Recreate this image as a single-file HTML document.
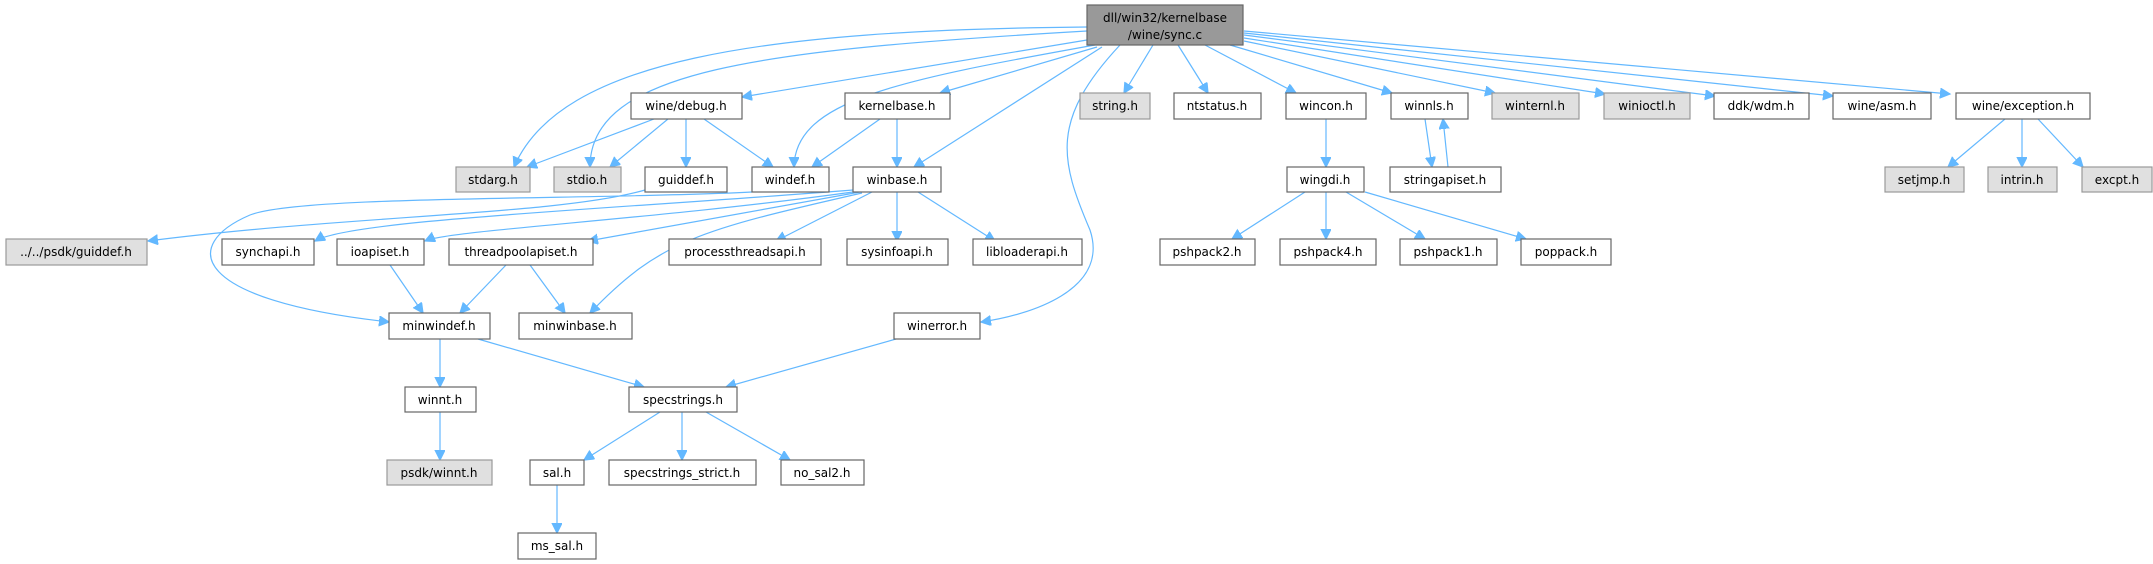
<!DOCTYPE html>
<html><head><meta charset="utf-8"><style>
html,body{margin:0;padding:0;background:#fff;width:2153px;height:564px;overflow:hidden}
svg{display:block}
text{font-family:"DejaVu Sans","Liberation Sans",sans-serif;font-size:12px;fill:#000;text-anchor:middle}
.n rect{fill:#fff;stroke:#666;stroke-width:1.2}
.g rect{fill:#e0e0e0;stroke:#999;stroke-width:1.2}
.m rect{fill:#999;stroke:#666;stroke-width:1.2}
path{fill:none;stroke:#63b8ff;stroke-width:1.2}
</style></head><body>
<svg width="2153" height="564" viewBox="0 0 2153 564" xmlns="http://www.w3.org/2000/svg">
<defs><marker id="a" markerUnits="userSpaceOnUse" markerWidth="12" markerHeight="12" refX="10" refY="5" orient="auto"><path d="M0,0 L10,5 L0,10 z" style="fill:#63b8ff;stroke:#63b8ff"/></marker></defs>
<g marker-end="url(#a)">
<path d="M1087,27 C760,30 560,60 514,167"/>
<path d="M1087,31 C760,50 590,70 590,167"/>
<path d="M1087,40 L742,97"/>
<path d="M1095,45 C900,80 795,100 794,167"/>
<path d="M1097,47 L940,93"/>
<path d="M1102,47 L914,167"/>
<path d="M1120,45 C1050,120 1060,160 1090,230 C1110,290 1030,315 981,322"/>
<path d="M1153,45 L1124,93"/>
<path d="M1178,45 L1208,93"/>
<path d="M1205,45 L1296,93"/>
<path d="M1230,45 L1392,93"/>
<path d="M1244,41 L1495,93"/>
<path d="M1244,38 L1605,94"/>
<path d="M1244,35 L1715,96"/>
<path d="M1244,33 L1833,96"/>
<path d="M1244,31 L1950,94"/>
<path d="M654,119 L527,167"/>
<path d="M668,119 L610,167"/>
<path d="M686,119 L686,167"/>
<path d="M704,119 L773,167"/>
<path d="M880,119 L812,167"/>
<path d="M897,119 L897,167"/>
<path d="M645,190 C560,215 350,215 148,241"/>
<path d="M752,192 C600,200 300,195 250,215 C180,245 190,300 389,322"/>
<path d="M853,190 C600,210 350,220 315,241"/>
<path d="M853,192 C650,220 450,230 425,241"/>
<path d="M860,192 L588,241"/>
<path d="M862,193 C700,230 660,240 590,313"/>
<path d="M872,192 L776,241"/>
<path d="M897,192 L897,241"/>
<path d="M918,192 L995,241"/>
<path d="M390,265 L423,313"/>
<path d="M506,265 L460,313"/>
<path d="M530,265 L565,313"/>
<path d="M440,339 L440,387"/>
<path d="M478,339 L644,387"/>
<path d="M896,339 L726,387"/>
<path d="M440,412 L440,460"/>
<path d="M660,412 L584,460"/>
<path d="M682,412 L682,460"/>
<path d="M706,412 L790,460"/>
<path d="M557,485 L557,533"/>
<path d="M1326,119 L1326,167"/>
<path d="M1425,119 L1432,167"/>
<path d="M1448,167 L1443,119"/>
<path d="M1305,192 L1232,239"/>
<path d="M1326,192 L1326,239"/>
<path d="M1346,192 L1425,239"/>
<path d="M1365,192 L1526,239"/>
<path d="M2005,119 L1948,167"/>
<path d="M2022,119 L2022,167"/>
<path d="M2038,119 L2083,167"/>
</g>
<g class="m"><rect x="1087" y="5" width="156" height="40"/><text x="1165" y="22">dll/win32/kernelbase</text><text x="1165" y="39">/wine/sync.c</text></g>
<g class="n"><rect x="631" y="93" width="111" height="26"/><text x="686" y="110">wine/debug.h</text></g>
<g class="n"><rect x="845" y="93" width="105" height="26"/><text x="897" y="110">kernelbase.h</text></g>
<g class="g"><rect x="1080" y="93" width="70" height="26"/><text x="1115" y="110">string.h</text></g>
<g class="n"><rect x="1174" y="93" width="87" height="26"/><text x="1217" y="110">ntstatus.h</text></g>
<g class="n"><rect x="1286" y="93" width="80" height="26"/><text x="1326" y="110">wincon.h</text></g>
<g class="n"><rect x="1391" y="93" width="77" height="26"/><text x="1429" y="110">winnls.h</text></g>
<g class="g"><rect x="1492" y="93" width="87" height="26"/><text x="1535" y="110">winternl.h</text></g>
<g class="g"><rect x="1604" y="93" width="86" height="26"/><text x="1647" y="110">winioctl.h</text></g>
<g class="n"><rect x="1714" y="93" width="95" height="26"/><text x="1761" y="110">ddk/wdm.h</text></g>
<g class="n"><rect x="1833" y="93" width="98" height="26"/><text x="1882" y="110">wine/asm.h</text></g>
<g class="n"><rect x="1956" y="93" width="134" height="26"/><text x="2023" y="110">wine/exception.h</text></g>
<g class="g"><rect x="456" y="167" width="74" height="25"/><text x="493" y="184">stdarg.h</text></g>
<g class="g"><rect x="554" y="167" width="67" height="25"/><text x="587" y="184">stdio.h</text></g>
<g class="n"><rect x="645" y="167" width="82" height="25"/><text x="686" y="184">guiddef.h</text></g>
<g class="n"><rect x="752" y="167" width="77" height="25"/><text x="790" y="184">windef.h</text></g>
<g class="n"><rect x="853" y="167" width="88" height="25"/><text x="897" y="184">winbase.h</text></g>
<g class="n"><rect x="1287" y="167" width="77" height="25"/><text x="1325" y="184">wingdi.h</text></g>
<g class="n"><rect x="1390" y="167" width="111" height="25"/><text x="1445" y="184">stringapiset.h</text></g>
<g class="g"><rect x="1885" y="167" width="79" height="25"/><text x="1924" y="184">setjmp.h</text></g>
<g class="g"><rect x="1988" y="167" width="69" height="25"/><text x="2022" y="184">intrin.h</text></g>
<g class="g"><rect x="2082" y="167" width="70" height="25"/><text x="2117" y="184">excpt.h</text></g>
<g class="g"><rect x="6" y="239" width="141" height="26"/><text x="76" y="256">../../psdk/guiddef.h</text></g>
<g class="n"><rect x="222" y="239" width="92" height="26"/><text x="268" y="256">synchapi.h</text></g>
<g class="n"><rect x="337" y="239" width="87" height="26"/><text x="380" y="256">ioapiset.h</text></g>
<g class="n"><rect x="449" y="239" width="144" height="26"/><text x="521" y="256">threadpoolapiset.h</text></g>
<g class="n"><rect x="669" y="239" width="152" height="26"/><text x="745" y="256">processthreadsapi.h</text></g>
<g class="n"><rect x="847" y="239" width="101" height="26"/><text x="897" y="256">sysinfoapi.h</text></g>
<g class="n"><rect x="973" y="239" width="109" height="26"/><text x="1027" y="256">libloaderapi.h</text></g>
<g class="n"><rect x="1160" y="239" width="95" height="26"/><text x="1207" y="256">pshpack2.h</text></g>
<g class="n"><rect x="1280" y="239" width="96" height="26"/><text x="1328" y="256">pshpack4.h</text></g>
<g class="n"><rect x="1400" y="239" width="97" height="26"/><text x="1448" y="256">pshpack1.h</text></g>
<g class="n"><rect x="1521" y="239" width="90" height="26"/><text x="1566" y="256">poppack.h</text></g>
<g class="n"><rect x="389" y="313" width="101" height="26"/><text x="439" y="330">minwindef.h</text></g>
<g class="n"><rect x="519" y="313" width="113" height="26"/><text x="575" y="330">minwinbase.h</text></g>
<g class="n"><rect x="894" y="313" width="86" height="26"/><text x="937" y="330">winerror.h</text></g>
<g class="n"><rect x="405" y="387" width="71" height="25"/><text x="440" y="404">winnt.h</text></g>
<g class="n"><rect x="629" y="387" width="108" height="25"/><text x="683" y="404">specstrings.h</text></g>
<g class="g"><rect x="387" y="460" width="105" height="25"/><text x="439" y="477">psdk/winnt.h</text></g>
<g class="n"><rect x="530" y="460" width="54" height="25"/><text x="557" y="477">sal.h</text></g>
<g class="n"><rect x="609" y="460" width="147" height="25"/><text x="682" y="477">specstrings_strict.h</text></g>
<g class="n"><rect x="781" y="460" width="83" height="25"/><text x="822" y="477">no_sal2.h</text></g>
<g class="n"><rect x="518" y="533" width="78" height="26"/><text x="557" y="550">ms_sal.h</text></g>
</svg>
</body></html>
